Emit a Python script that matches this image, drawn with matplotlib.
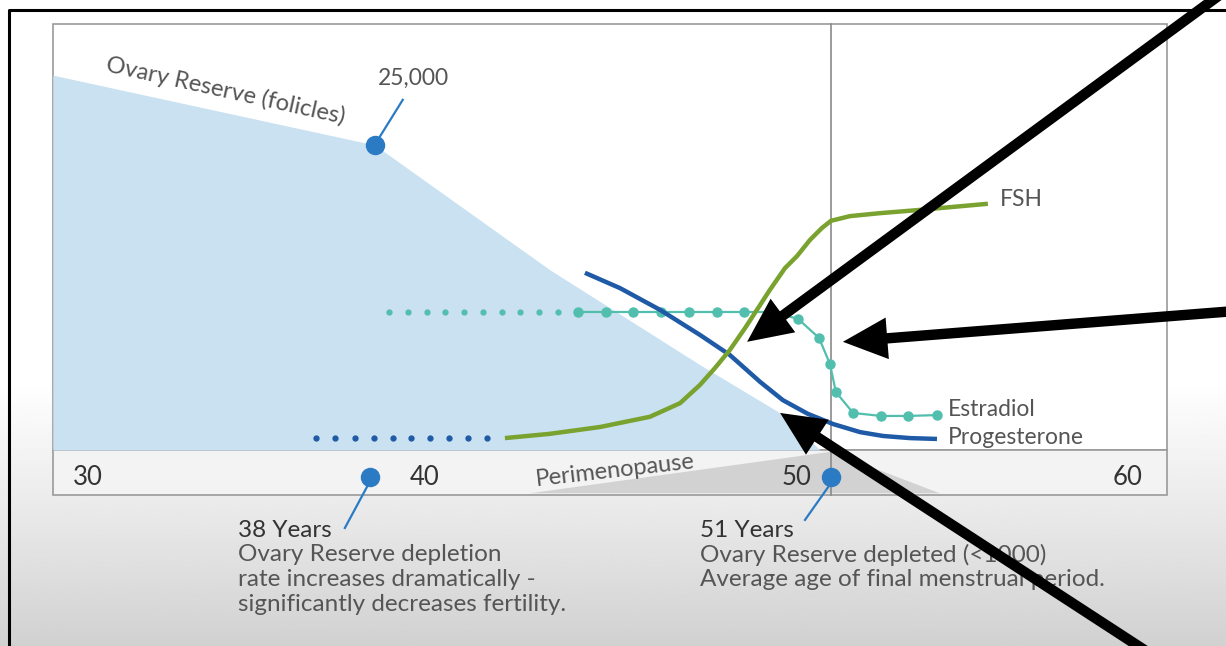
import numpy as np
import matplotlib.pyplot as plt
from matplotlib.patches import Rectangle, Polygon, FancyArrowPatch

plt.rcParams['font.family'] = ['Lato', 'DejaVu Sans']

# x = age in years, y = relative level (0 = chart floor, 100 = chart top)
reserve_age = [28.83, 38.0, 42.99, 47.27, 49.55, 50.69]
reserve_level = [88.0, 71.6, 42.3, 20.0, 8.7, 0.0]

fsh_age = [41.71, 42.99, 44.42, 45.84, 46.70, 47.27, 47.70, 48.12, 48.55, 48.89,
           49.26, 49.69, 50.03, 50.40, 50.74, 51.00, 51.54, 52.40, 53.45, 54.39, 55.47]
fsh_level = [2.8, 3.8, 5.4, 7.8, 11.0, 15.3, 19.3, 23.5, 28.6, 32.9,
             37.6, 42.7, 45.5, 49.3, 52.1, 53.8, 54.9, 55.6, 56.3, 57.0, 57.8]

prog_age = [43.99, 44.99, 46.13, 47.27, 48.12, 48.98, 49.63, 50.34, 51.06, 51.83,
            52.48, 53.25, 54.02]
prog_level = [41.6, 38.0, 32.9, 27.0, 22.3, 16.0, 11.7, 8.5, 6.1, 4.2, 3.3, 2.8, 2.6]
prog_dot_age = [36.33, 36.87, 37.44, 37.98, 38.52, 39.03, 39.58, 40.12, 40.66, 41.20]
prog_dot_level = [2.8] * len(prog_dot_age)

estr_age = [43.79, 44.59, 45.36, 46.16, 46.95, 47.75, 48.52, 49.32, 50.06, 50.66,
            50.97, 51.14, 51.63, 52.42, 53.19, 54.02]
estr_level = [32.4, 32.4, 32.4, 32.4, 32.4, 32.4, 32.4, 32.4, 30.8, 26.3,
              20.2, 13.6, 8.7, 8.0, 8.0, 8.2]
estr_dot_age = [38.41, 38.95, 39.49, 40.00, 40.54, 41.09, 41.63, 42.14, 42.68, 43.22]
estr_dot_level = [32.4] * len(estr_dot_age)

tick_labels = ['30', '40', '50', '60']
tick_label_x = [29.83, 39.43, 50.03, 59.46]

# black pointer arrows: (tail, tip)
arrows = [((62.65, 110.3), (48.61, 25.4)),
          ((62.94, 32.9), (51.34, 25.4)),
          ((60.37, -49.3), (49.55, 8.7))]

xmin, xmax = 27.325, 62.254
ymin, ymax = -46.0, 105.63
box_l, box_r = 28.83, 60.57
strip_bottom = -10.56

c_fill = '#c9e1f1'
c_dot = '#2b7bc4'
c_prog = '#1f5aa6'
c_fsh = '#7aa22f'
c_estr = '#52bfae'
c_text = '#555555'
c_dark = '#333333'
c_edge = '#9a9a9a'

fig = plt.figure(figsize=(12.26, 6.46), dpi=100)
ax = fig.add_axes([0, 0, 1, 1])
ax.set_xlim(xmin, xmax)
ax.set_ylim(ymin, ymax)
ax.axis('off')

# page background: white fading to grey at the bottom
rows = np.linspace(ymax, ymin, 300)
shade = np.interp(rows, [ymin, -16.4, 16.0, ymax], [0.82, 0.91, 1.0, 1.0])
ax.imshow(np.repeat(shade[:, None], 2, axis=1), cmap='gray', vmin=0, vmax=1,
          extent=(xmin, xmax, ymin, ymax), aspect='auto', zorder=0)

# chart box and age strip
ax.add_patch(Rectangle((box_l, 0), box_r - box_l, 100, fc='white', ec=c_edge, lw=1.2, zorder=1))
ax.add_patch(Rectangle((box_l, strip_bottom), box_r - box_l, -strip_bottom, fc='#f3f3f3',
                       ec=c_edge, lw=1.2, zorder=1))
ax.add_patch(Polygon([(42.42, strip_bottom + 0.4), (51.0, -0.4), (54.1, strip_bottom + 0.4)],
                     fc='#d2d2d2', ec='none', zorder=1.5))

# ovary reserve area
ax.fill_between(reserve_age, reserve_level, 0, color=c_fill, lw=0, zorder=2)

ax.plot([51, 51], [strip_bottom, 100], color='#8a8a8a', lw=1.2, zorder=2.5)

# hormone curves
ax.plot(prog_dot_age, prog_dot_level, ls='none', marker='o', ms=3.5, color=c_prog, zorder=3)
ax.plot(estr_dot_age, estr_dot_level, ls='none', marker='o', ms=3.5, color=c_estr, zorder=3)
ax.plot(estr_age, estr_level, color=c_estr, lw=1.6, marker='o', ms=6.5, zorder=3)
ax.plot(prog_age, prog_level, color=c_prog, lw=3.2, solid_capstyle='butt',
        solid_joinstyle='round', zorder=4)
ax.plot(fsh_age, fsh_level, color=c_fsh, lw=3.2, solid_capstyle='butt',
        solid_joinstyle='round', zorder=4)

ax.text(55.81, 58.9, 'FSH', fontsize=16.5, color=c_text, va='center', zorder=5)
ax.text(54.33, 9.6, 'Estradiol', fontsize=16.5, color=c_text, va='center', zorder=5)
ax.text(54.33, 3.0, 'Progesterone', fontsize=16.5, color=c_text, va='center', zorder=5)

# reserve label and 25,000 marker
ax.text(33.74, 84.3, 'Ovary Reserve (folicles)', fontsize=17, color=c_text, rotation=-12.5,
        rotation_mode='anchor', ha='center', va='center', zorder=5)
ax.plot([38.09, 38.8], [72.8, 82.2], color=c_dot, lw=1.6, zorder=5)
ax.plot([reserve_age[1]], [reserve_level[1]], 'o', ms=13, color=c_dot, zorder=5)
ax.text(39.09, 87.3, '25,000', fontsize=16.5, color=c_text, ha='center', va='center', zorder=5)

# age strip labels
for lab, x in zip(tick_labels, tick_label_x):
    ax.text(x, -6.34, lab, fontsize=18.5, color=c_dark, ha='center', va='center', zorder=5)
ax.text(44.85, -4.9, 'Perimenopause', fontsize=17, color=c_text, rotation=6.5,
        rotation_mode='anchor', ha='center', va='center', zorder=5)

# milestone markers
ax.plot([37.81, 37.15], [-8.2, -18.3], color=c_dot, lw=1.6, zorder=5)
ax.plot([37.87], [-6.34], 'o', ms=13, color=c_dot, zorder=6)
ax.plot([50.94, 50.26], [-8.45, -16.4], color=c_dot, lw=1.6, zorder=5)
ax.plot([51.0], [-6.34], 'o', ms=13, color=c_dot, zorder=6)

note1 = ['Ovary Reserve depletion', 'rate increases dramatically -',
         'significantly decreases fertility.']
note2 = ['Ovary Reserve depleted (<1000)', 'Average age of final menstrual period.']
for x, head, lines in [(34.11, '38 Years', note1), (47.27, '51 Years', note2)]:
    ax.text(x, -18.8, head, fontsize=17.5, color=c_dark, va='center', zorder=5)
    for i, line in enumerate(lines):
        ax.text(x, -24.6 - 5.87 * i, line, fontsize=17.5, color=c_text, va='center', zorder=5)

# frame of the screenshot
ax.plot([27.58, 27.58, xmax + 1], [ymin - 5, 103.3, 103.3], color='black', lw=2.2, zorder=6)

for tail, tip in arrows:
    ax.add_patch(FancyArrowPatch(tail, tip,
                                 arrowstyle='simple,head_length=3.2,head_width=3.0,tail_width=0.75',
                                 mutation_scale=10, lw=0, color='black', shrinkA=0, shrinkB=0,
                                 zorder=8))

fig.savefig('out.png', dpi=100)
